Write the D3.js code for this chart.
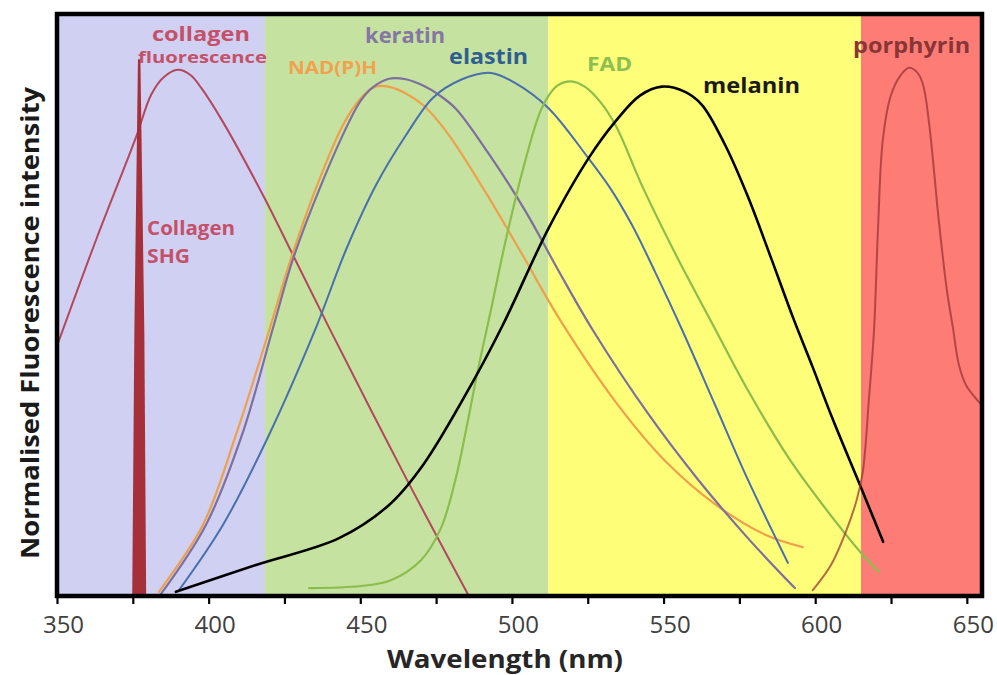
<!DOCTYPE html>
<html>
<head>
<meta charset="utf-8">
<script src="https://cdn.jsdelivr.net/npm/d3@7"></script>
<style>
  html, body { margin: 0; padding: 0; background: #ffffff; }
  svg { display: block; font-family: "Open Sans", "DejaVu Sans", sans-serif; }
</style>
</head>
<body>
<svg id="chart" width="997" height="675"></svg>
<script>
// ---------- data (wavelength in nm, normalised intensity) ----------
const wavelengthTicks = [350, 375, 400, 425, 450, 475, 500, 525, 550, 575, 600, 625, 650];
const labelledTicks = [350, 400, 450, 500, 550, 600, 650];

// spectral background bands: edges in nm
const bandEdges = [350, 418.6, 512, 615.1, 655];

const collagenSHG = [[374.8, 0], [375.5, 0.5], [376.7, 1.02], [377.5, 1.02], [378.8, 0.5], [379.4, 0]];

const collagenFluorescence = [
  [350.3, 0.48], [362.9, 0.677], [376.0, 0.871], [381.0, 0.952], [385.0, 0.985],
  [389.9, 1.0], [394.0, 0.990], [397.5, 0.966], [404.7, 0.901], [417.9, 0.762],
  [427.8, 0.648], [439.7, 0.510], [465.1, 0.224], [485.8, 0]
];

const nadph = [
  [383.6, 0.008], [398.1, 0.135], [409.0, 0.306], [420.5, 0.515], [426.8, 0.635],
  [435.4, 0.775], [444.3, 0.895], [450.0, 0.945], [455.0, 0.968], [460.0, 0.967],
  [465.0, 0.955], [470.7, 0.933], [476.0, 0.900], [481.5, 0.857], [492.4, 0.757],
  [503.6, 0.647], [515.5, 0.528], [534.3, 0.368], [550.8, 0.255], [567.3, 0.173],
  [583.7, 0.116], [595.9, 0.093]
];

const keratin = [
  [384.3, 0.004], [399.1, 0.135], [411.0, 0.306], [421.5, 0.515], [427.8, 0.640],
  [437.0, 0.780], [446.3, 0.901], [450.0, 0.940], [454.0, 0.966], [459.5, 0.983],
  [465.0, 0.982], [470.7, 0.970], [476.0, 0.952], [481.5, 0.926], [492.4, 0.840],
  [504.6, 0.730], [515.0, 0.622], [526.7, 0.505], [545.2, 0.344], [561.4, 0.221],
  [577.8, 0.110], [593.3, 0.015]
];

const elastin = [
  [390.2, 0.011], [404.7, 0.135], [419.9, 0.306], [435.4, 0.510], [445.3, 0.658],
  [455.2, 0.781], [465.1, 0.876], [474.0, 0.947], [483.2, 0.981], [493.1, 0.994],
  [501.0, 0.975], [511.9, 0.928], [525.1, 0.833], [532.3, 0.776], [539.6, 0.705],
  [547.2, 0.616], [556.1, 0.506], [567.0, 0.363], [577.8, 0.221], [591.0, 0.063]
];

const fad = [
  [433.1, 0.015], [450.2, 0.019], [460.1, 0.030], [470.0, 0.068], [476.6, 0.129],
  [481.5, 0.224], [485.2, 0.325], [488.8, 0.430], [493.1, 0.544], [498.0, 0.677],
  [503.6, 0.810], [508.9, 0.914], [512.0, 0.950], [515.0, 0.970], [519.5, 0.978],
  [524.0, 0.968], [529.0, 0.940], [534.3, 0.893], [543.2, 0.776], [554.1, 0.648],
  [566.3, 0.515], [578.1, 0.388], [591.3, 0.262], [602.5, 0.173], [615.7, 0.078],
  [621.0, 0.046]
];

const melanin = [
  [389.2, 0.008], [415.6, 0.059], [443.0, 0.110], [459.5, 0.173], [470.7, 0.249],
  [487.1, 0.407], [497.0, 0.515], [512.2, 0.700], [525.4, 0.833], [534.0, 0.901],
  [542.2, 0.951], [549.5, 0.968], [557.1, 0.958], [562.7, 0.933], [570.3, 0.857],
  [577.8, 0.759], [585.4, 0.643], [592.7, 0.529], [599.3, 0.433], [605.5, 0.340],
  [615.4, 0.202], [622.4, 0.103]
];

const porphyrin = [
  [599.2, 0.011], [605.2, 0.059], [610.1, 0.122], [613.7, 0.183], [615.7, 0.236],
  [617.7, 0.373], [619.4, 0.506], [620.7, 0.696], [622.3, 0.867], [625.0, 0.952],
  [628.2, 0.990], [630.9, 1.004], [633.5, 0.996], [635.5, 0.973], [637.5, 0.901],
  [640.8, 0.711], [643.4, 0.582], [645.4, 0.510], [647.4, 0.439], [649.7, 0.401],
  [652.0, 0.382], [654.9, 0.363]
];

// ---------- styling ----------
const bandColours = ["#cfd0f2", "#c6e2a0", "#fefe78", "#fd7d76"];

const lineSeries = [
  { values: collagenFluorescence, colour: "#b3475c", width: 2, opacity: 1 },
  { values: nadph, colour: "#eea04c", width: 2.2, opacity: 1 },
  { values: keratin, colour: "#7d6f9e", width: 2.2, opacity: 1 },
  { values: elastin, colour: "#4a6fae", width: 2, opacity: 1 },
  { values: fad, colour: "#8cbd4c", width: 2.2, opacity: 1 },
  { values: melanin, colour: "#000000", width: 2.6, opacity: 1 },
  { values: porphyrin, colour: "#9a3030", width: 2, opacity: 0.72 }
];

// label anchors in data units (start of text, baseline)
const seriesLabels = [
  { text: "collagen", at: [381.3, 1.055], colour: "#c4506a", size: 20, len: 98 },
  { text: "fluorescence", at: [376.7, 1.013], colour: "#c4506a", size: 16, len: 129 },
  { text: "NAD(P)H", at: [426.2, 0.992], colour: "#f2a24e", size: 17, len: 89 },
  { text: "keratin", at: [451.6, 1.051], colour: "#8577a3", size: 21, len: 80 },
  { text: "elastin", at: [479.3, 1.011], colour: "#2e5f8f", size: 21, len: 79 },
  { text: "FAD", at: [524.8, 0.998], colour: "#8cbf50", size: 20, len: 45 },
  { text: "melanin", at: [563.0, 0.956], colour: "#1a1a1a", size: 22, len: 97 },
  { text: "porphyrin", at: [612.5, 1.032], colour: "#8a3535", size: 21, len: 117 },
  { text: "Collagen", at: [379.7, 0.686], colour: "#c4506a", size: 19, len: 88 },
  { text: "SHG", at: [379.7, 0.633], colour: "#c4506a", size: 19, len: 43 }
];

// ---------- scales ----------
const svg = d3.select("#chart");
const x = d3.scaleLinear().domain([350, 655]).range([57, 982]);
const y = d3.scaleLinear().domain([0, 1.106]).range([596, 14]);

const [x0, x1] = x.range();
const [yBottom, yTop] = y.range();

svg.append("defs").append("clipPath").attr("id", "plot-clip")
  .append("rect")
  .attr("x", x0).attr("y", yTop)
  .attr("width", x1 - x0).attr("height", yBottom - yTop);

// background bands
svg.append("g").selectAll("rect")
  .data(d3.pairs(bandEdges))
  .join("rect")
  .attr("x", d => x(d[0]))
  .attr("y", yTop)
  .attr("width", d => x(d[1]) - x(d[0]))
  .attr("height", yBottom - yTop)
  .attr("fill", (d, i) => bandColours[i]);

const plot = svg.append("g").attr("clip-path", "url(#plot-clip)");

// emission curves
const line = d3.line()
  .x(d => x(d[0]))
  .y(d => y(d[1]))
  .curve(d3.curveCatmullRom.alpha(0.5));

plot.selectAll("path.spectrum")
  .data(lineSeries)
  .join("path")
  .attr("class", "spectrum")
  .attr("d", d => line(d.values))
  .attr("fill", "none")
  .attr("stroke", d => d.colour)
  .attr("stroke-width", d => d.width)
  .attr("stroke-opacity", d => d.opacity)
  .attr("stroke-linejoin", "round")
  .attr("stroke-linecap", "round");

// second-harmonic spike
const spike = d3.area()
  .x(d => x(d[0]))
  .y0(y(0))
  .y1(d => y(d[1]))
  .curve(d3.curveLinear);

plot.append("path")
  .datum(collagenSHG)
  .attr("d", spike)
  .attr("fill", "#a5303a");

// series labels
svg.append("g").selectAll("text")
  .data(seriesLabels)
  .join("text")
  .attr("x", d => x(d.at[0]))
  .attr("y", d => y(d.at[1]))
  .attr("fill", d => d.colour)
  .attr("font-size", d => d.size)
  .attr("font-weight", 700)
  .attr("textLength", d => d.len)
  .attr("lengthAdjust", "spacingAndGlyphs")
  .text(d => d.text);

// frame
svg.append("rect")
  .attr("x", x0).attr("y", yTop)
  .attr("width", x1 - x0).attr("height", yBottom - yTop)
  .attr("fill", "none")
  .attr("stroke", "#000")
  .attr("stroke-width", 4.5);

// x axis
const xAxis = d3.axisBottom(x)
  .tickValues(wavelengthTicks)
  .tickSize(8)
  .tickPadding(12)
  .tickFormat(d => labelledTicks.includes(d) ? String(d) : "");

const gx = svg.append("g")
  .attr("transform", `translate(0,${yBottom})`)
  .call(xAxis);
gx.select(".domain").remove();
gx.selectAll(".tick line").attr("stroke", "#000").attr("stroke-width", 2.2);
gx.selectAll(".tick text")
  .attr("font-family", "\"Open Sans\", \"DejaVu Sans\", sans-serif")
  .attr("font-size", 24)
  .attr("fill", "#404040")
  .attr("dx", 6);

// axis titles
svg.append("text")
  .attr("x", 505).attr("y", 668)
  .attr("text-anchor", "middle")
  .attr("font-size", 25)
  .attr("font-weight", 700)
  .attr("fill", "#262626")
  .attr("textLength", 236)
  .attr("lengthAdjust", "spacingAndGlyphs")
  .text("Wavelength (nm)");

svg.append("text")
  .attr("transform", "translate(39,323) rotate(-90)")
  .attr("text-anchor", "middle")
  .attr("font-size", 25)
  .attr("font-weight", 700)
  .attr("fill", "#1a1a1a")
  .attr("textLength", 472)
  .attr("lengthAdjust", "spacingAndGlyphs")
  .text("Normalised Fluorescence intensity");
</script>
</body>
</html>
